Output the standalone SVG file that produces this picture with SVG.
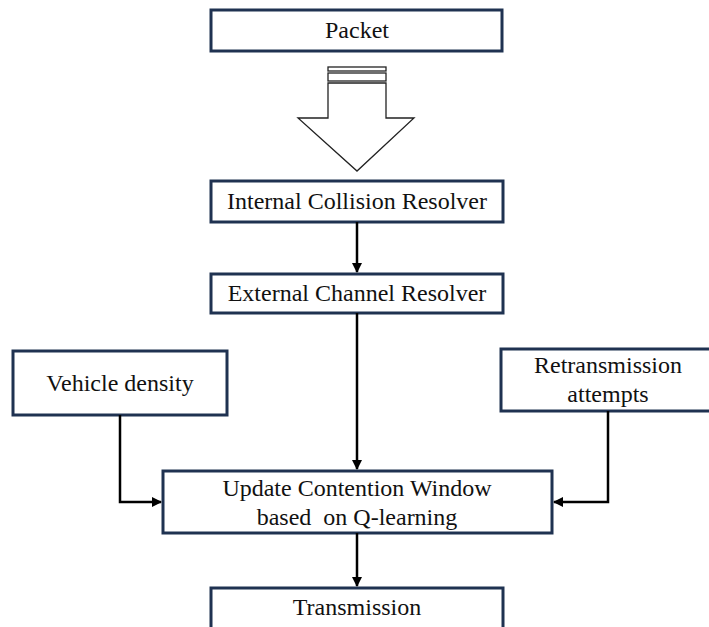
<svg xmlns="http://www.w3.org/2000/svg" width="709" height="627" viewBox="0 0 709 627">
<defs>
<style>
.box{fill:#fff;stroke:#1f3251;stroke-width:3}
.t{font-family:"Liberation Serif","Times New Roman",serif;font-size:24px;fill:#111;text-anchor:middle}
.c{fill:none;stroke:#000;stroke-width:2.5}
.blk{fill:#fff;stroke:#222;stroke-width:1.3}
</style>
<marker id="ah" markerWidth="10" markerHeight="10" refX="9" refY="5" orient="auto" markerUnits="userSpaceOnUse">
<path d="M0,0 L10,5 L0,10 Z" fill="#000"/>
</marker>
</defs>
<rect width="709" height="627" fill="#fff"/>
<g id="packet">
<rect class="box" x="211" y="10" width="291" height="41"/>
<text class="t" x="357" y="38">Packet</text>
</g>
<g id="block-arrow">
<rect class="blk" x="328" y="67" width="58" height="4"/>
<rect class="blk" x="328" y="73" width="58" height="8"/>
<path class="blk" d="M328,83 L386,83 L386,118 L414,118 L357,171 L298,118 L328,118 Z"/>
</g>
<g id="internal">
<rect class="box" x="211" y="181" width="292" height="41"/>
<text class="t" x="357" y="209">Internal Collision Resolver</text>
</g>
<g id="external">
<rect class="box" x="211" y="274" width="292" height="39"/>
<text class="t" x="357" y="301">External Channel Resolver</text>
</g>
<g id="vehicle">
<rect class="box" x="13" y="351" width="214" height="64"/>
<text class="t" x="120" y="391">Vehicle density</text>
</g>
<g id="retrans">
<rect class="box" x="501" y="349" width="214" height="62"/>
<text class="t" x="608" y="373">Retransmission</text>
<text class="t" x="608" y="402">attempts</text>
</g>
<g id="update">
<rect class="box" x="163" y="471" width="389" height="62"/>
<text class="t" x="357" y="496">Update Contention Window</text>
<text class="t" x="357" y="525" xml:space="preserve">based  on Q-learning</text>
</g>
<g id="transmission">
<rect class="box" x="211" y="588" width="292" height="45"/>
<text class="t" x="357" y="615">Transmission</text>
</g>
<g id="connectors">
<path class="c" d="M357,222 L357,272" marker-end="url(#ah)"/>
<path class="c" d="M357,313 L357,469" marker-end="url(#ah)"/>
<path class="c" d="M120,415 L120,502 L161,502" marker-end="url(#ah)"/>
<path class="c" d="M608,411 L608,502 L554,502" marker-end="url(#ah)"/>
<path class="c" d="M357,533 L357,586" marker-end="url(#ah)"/>
</g>
</svg>
